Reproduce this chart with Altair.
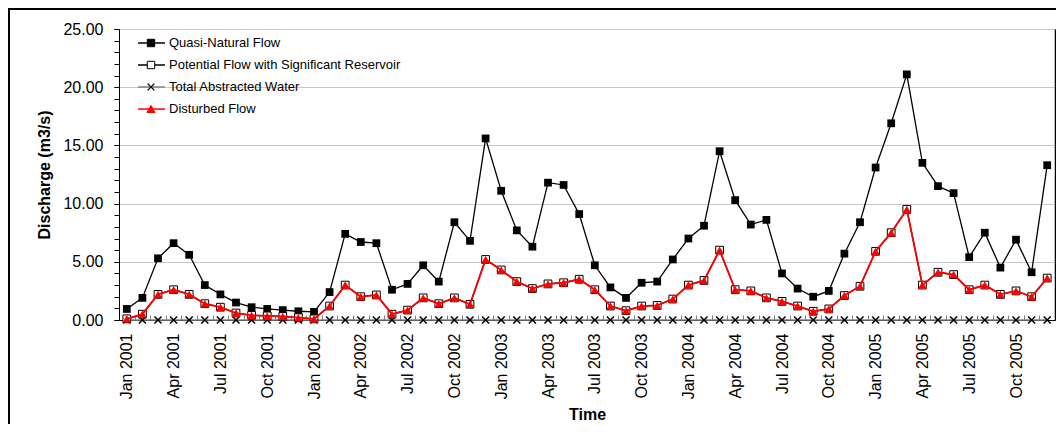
import altair as alt
import pandas as pd

FONT = "Liberation Sans"

months = ["Jan", "Feb", "Mar", "Apr", "May", "Jun", "Jul", "Aug", "Sep", "Oct", "Nov", "Dec"]
years = [2001, 2002, 2003, 2004, 2005]
time_labels = [f"{m} {y}" for y in years for m in months]

quasi_natural = [
    0.95, 1.9, 5.3, 6.6, 5.6, 3.0, 2.2, 1.5, 1.1, 0.95, 0.85, 0.75,
    0.7, 2.4, 7.4, 6.7, 6.6, 2.6, 3.1, 4.7, 3.3, 8.4, 6.8, 15.6,
    11.1, 7.7, 6.3, 11.8, 11.6, 9.1, 4.7, 2.8, 1.9, 3.2, 3.3, 5.2,
    7.0, 8.1, 14.5, 10.3, 8.2, 8.6, 4.0, 2.7, 2.0, 2.5, 5.7, 8.4,
    13.1, 16.9, 21.1, 13.5, 11.5, 10.9, 5.4, 7.5, 4.5, 6.9, 4.1, 13.3,
]
potential_reservoir = [
    0.1, 0.5, 2.2, 2.6, 2.2, 1.4, 1.1, 0.6, 0.4, 0.35, 0.3, 0.2,
    0.1, 1.2, 3.0, 2.0, 2.15, 0.5, 0.85, 1.9, 1.4, 1.9, 1.35, 5.2,
    4.3, 3.3, 2.7, 3.1, 3.2, 3.5, 2.6, 1.2, 0.8, 1.2, 1.25, 1.8,
    3.0, 3.4, 6.0, 2.6, 2.5, 1.9, 1.6, 1.2, 0.75, 0.95, 2.1, 2.9,
    5.9, 7.5, 9.5, 3.0, 4.1, 3.9, 2.6, 3.0, 2.2, 2.5, 2.0, 3.6,
]
total_abstracted = [
    0.0, 0.0, 0.0, 0.0, 0.0, 0.0, 0.0, 0.0, 0.0, 0.0, 0.0, 0.0,
    0.0, 0.0, 0.0, 0.0, 0.0, 0.0, 0.0, 0.0, 0.0, 0.0, 0.0, 0.0,
    0.0, 0.0, 0.0, 0.0, 0.0, 0.0, 0.0, 0.0, 0.0, 0.0, 0.0, 0.0,
    0.0, 0.0, 0.0, 0.0, 0.0, 0.0, 0.0, 0.0, 0.0, 0.0, 0.0, 0.0,
    0.0, 0.0, 0.0, 0.0, 0.0, 0.0, 0.0, 0.0, 0.0, 0.0, 0.0, 0.0,
]
disturbed = [
    0.1, 0.5, 2.2, 2.6, 2.2, 1.4, 1.1, 0.6, 0.4, 0.35, 0.3, 0.2,
    0.1, 1.2, 3.0, 2.0, 2.15, 0.5, 0.85, 1.9, 1.4, 1.9, 1.35, 5.2,
    4.3, 3.3, 2.7, 3.1, 3.2, 3.5, 2.6, 1.2, 0.8, 1.2, 1.25, 1.8,
    3.0, 3.4, 6.0, 2.6, 2.5, 1.9, 1.6, 1.2, 0.75, 0.95, 2.1, 2.9,
    5.9, 7.5, 9.5, 3.0, 4.1, 3.9, 2.6, 3.0, 2.2, 2.5, 2.0, 3.6,
]
series_names = ["Quasi-Natural Flow", "Potential Flow with Significant Reservoir",
                "Total Abstracted Water", "Disturbed Flow"]

df = pd.DataFrame({
    "idx": list(range(len(time_labels))),
    "label": time_labels,
    "quasi": quasi_natural,
    "potential": potential_reservoir,
    "abstracted": total_abstracted,
    "disturbed": disturbed,
})

n = len(time_labels)
xscale = alt.Scale(domain=[-0.5, n - 0.5], nice=False, zero=False)
yscale = alt.Scale(domain=[0, 25], nice=False)

label_expr = "[" + ",".join(f"'{l}'" for l in time_labels) + "][datum.value]"

x_main_axis = alt.Axis(
    values=list(range(0, n, 3)), labelExpr=label_expr, labelAngle=-90,
    labelFontSize=16, labelFont=FONT, labelColor="black", labelPadding=13,
    ticks=False, tickSize=0, grid=False, domain=True, domainColor="black",
    title="Time", titleFont=FONT, titleFontSize=16, titleFontWeight="bold",
    titleColor="black", titlePadding=8, orient="bottom", labelOverlap=False,
)
x_minor_axis = alt.Axis(
    values=[i + 0.5 for i in range(-1, n)], labels=False, ticks=True, tickSize=5,
    tickColor="#808080", domain=False, grid=False, title=None, orient="bottom", offset=-5,
)
y_main_axis = alt.Axis(
    values=[0, 5, 10, 15, 20, 25], format=".2f", labelFontSize=16, labelFont=FONT,
    labelColor="black", labelPadding=11, tickSize=5, tickColor="black",
    domain=True, domainColor="black", grid=True, gridColor="#c8c8c8", gridWidth=1,
    title="Discharge (m3/s)", titleFont=FONT, titleFontSize=16, titleFontWeight="bold",
    titleColor="black", titlePadding=10, orient="left",
)
y_minor_axis = alt.Axis(
    values=list(range(0, 26)), labels=False, ticks=True, tickSize=5, tickColor="black",
    domain=False, grid=False, title=None, orient="left",
)
y_right_axis = alt.Axis(
    labels=False, ticks=False, domain=True, domainColor="black", domainWidth=1.5,
    grid=False, title=None, orient="right",
)

base = alt.Chart(df)
X_PLAIN = alt.X("idx:Q", scale=xscale, axis=None)


def Y(col, axis=None):
    return alt.Y(f"{col}:Q", scale=yscale, axis=axis)


x_marker = "M-1,-1L1,1M-1,1L1,-1"

abstract_line = base.mark_line(color="#808080", strokeWidth=1.5).encode(
    x=alt.X("idx:Q", scale=xscale, axis=x_minor_axis), y=Y("abstracted", y_minor_axis))
abstract_pts = base.mark_point(shape=x_marker, filled=False, stroke="black",
                               strokeWidth=1.5, size=50, opacity=1).encode(
    x=X_PLAIN, y=Y("abstracted"))

quasi_line = base.mark_line(color="black", strokeWidth=1.3).encode(
    x=alt.X("idx:Q", scale=xscale, axis=x_main_axis), y=Y("quasi", y_main_axis))
quasi_pts = base.mark_point(shape="square", filled=True, color="black", size=60, opacity=1).encode(
    x=X_PLAIN, y=Y("quasi"))

pot_line = base.mark_line(color="black", strokeWidth=1.3).encode(
    x=X_PLAIN, y=Y("potential", y_right_axis))
pot_pts = base.mark_point(shape="square", filled=True, fill="white", stroke="black",
                          strokeWidth=1, size=60, opacity=1).encode(
    x=X_PLAIN, y=Y("potential"))

dist_line = base.mark_line(color="#ff0000", strokeWidth=1.8).encode(
    x=X_PLAIN, y=Y("disturbed"))
dist_pts = base.mark_point(shape="triangle-up", filled=True, color="#ff0000", size=75, opacity=1).encode(
    x=X_PLAIN, y=Y("disturbed"))

# legend
legend_styles = [
    dict(line="black", shape="square", fill="black", stroke="black", size=55),
    dict(line="black", shape="square", fill="white", stroke="black", size=55),
    dict(line="#808080", shape=x_marker, fill=None, stroke="black", size=45),
    dict(line="#ff0000", shape="triangle-up", fill="#ff0000", stroke="#ff0000", size=65),
]
legend_layers = []
for i, (name, st) in enumerate(zip(series_names, legend_styles)):
    ly = 14 + 22 * i
    d = alt.Data(values=[{"label": name}])
    legend_layers.append(alt.Chart(d).mark_rule(color=st["line"], strokeWidth=1.5).encode(
        x=alt.value(19), x2=alt.value(46), y=alt.value(ly)))
    if st["fill"] is None:
        pt = alt.Chart(d).mark_point(shape=st["shape"], filled=False, stroke=st["stroke"],
                                     strokeWidth=1.3, size=st["size"], opacity=1)
    else:
        pt = alt.Chart(d).mark_point(shape=st["shape"], filled=True, fill=st["fill"],
                                     stroke=st["stroke"], strokeWidth=1, size=st["size"], opacity=1)
    legend_layers.append(pt.encode(x=alt.value(32), y=alt.value(ly)))
    legend_layers.append(alt.Chart(d).mark_text(align="left", baseline="middle", fontSize=13,
                                                font=FONT, color="black").encode(
        x=alt.value(50), y=alt.value(ly), text="label:N"))

frame = alt.Chart(alt.Data(values=[{"a": 1}])).mark_rect(
    fillOpacity=0, stroke="black", strokeWidth=2).encode(
    x=alt.value(-110), x2=alt.value(960), y=alt.value(-20), y2=alt.value(430))

chart = alt.layer(
    frame,
    abstract_line, abstract_pts,
    quasi_line, quasi_pts,
    pot_line, pot_pts,
    dist_line, dist_pts,
    *legend_layers,
).resolve_axis(x="independent", y="independent").properties(
    width=936, height=291,
    autosize=alt.AutoSizeParams(type="none"),
    padding={"left": 111, "top": 21, "right": 1, "bottom": 104},
).configure_view(stroke=None).configure(font=FONT)

chart.save("out.html", embed_options={"renderer": "svg", "actions": False})
